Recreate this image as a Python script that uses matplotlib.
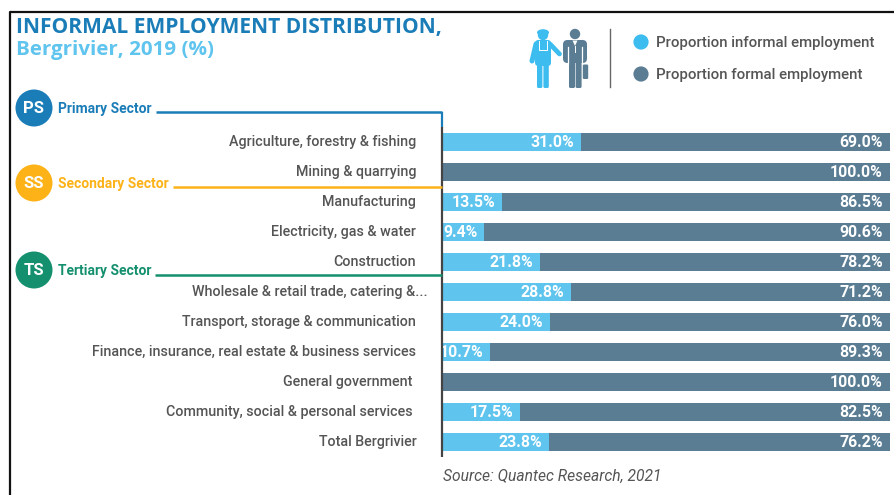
import matplotlib
matplotlib.use("Agg")
import matplotlib.pyplot as plt
from matplotlib.patches import Circle, Ellipse, FancyBboxPatch, Polygon
from matplotlib.transforms import ScaledTranslation

categories = [
    "Agriculture, forestry & fishing",
    "Mining & quarrying",
    "Manufacturing",
    "Electricity, gas & water",
    "Construction",
    "Wholesale & retail trade, catering &...",
    "Transport, storage & communication",
    "Finance, insurance, real estate & business services",
    "General government ",
    "Community, social & personal services ",
    "Total Bergrivier",
]
informal = [31.0, 0.0, 13.5, 9.4, 21.8, 28.8, 24.0, 10.7, 0.0, 17.5, 23.8]
formal = [69.0, 100.0, 86.5, 90.6, 78.2, 71.2, 76.0, 89.3, 100.0, 82.5, 76.2]
series_names = ["Proportion informal employment", "Proportion formal employment"]

W, H = 894, 495
SKY = "#5fc4ee"
SLATE = "#5b7d94"
ICON_SKY = "#3dbcef"
BLUE = "#1b7db8"
AMBER = "#fdb218"
GREEN = "#14906f"
GREY = "#555555"
FONT = "Roboto"

fig = plt.figure(figsize=(W / 100, H / 100), dpi=100, facecolor="white")

# Overlay in pixel units for the frame, headings, sector tags and icons
ov = fig.add_axes([0, 0, 1, 1], zorder=3)
ov.set_xlim(0, W)
ov.set_ylim(H, 0)
ov.axis("off")
ov.patch.set_alpha(0)

# Stacked bars
ax = fig.add_axes([442 / W, 1 - 457 / H, 448 / W, (457 - 127) / H], zorder=1)
y = list(range(len(categories)))
ax.barh(y, informal, height=0.62, color=SKY, linewidth=0)
ax.barh(y, formal, left=informal, height=0.62, color=SLATE, linewidth=0)
ax.set_xlim(0, 100)
ax.set_ylim(10.5, -0.5)
for side in ("top", "right", "bottom", "left"):
    ax.spines[side].set_visible(False)
ax.set_xticks([])
ax.set_yticks(y)
ax.set_yticklabels(categories, fontsize=10.25, color=GREY, family=FONT, fontweight="medium",
                   va="center")
ax.tick_params(axis="y", length=0, pad=18.5)
ax.patch.set_alpha(0)

# The truncated label runs closer to the bars than the others
wide_label = ax.get_yticklabels()[5]
wide_label.set_transform(wide_label.get_transform()
                         + ScaledTranslation(11 / 100, 0, fig.dpi_scale_trans))

for i, (a, b) in enumerate(zip(informal, formal)):
    if a > 0:
        ax.text(a - 1.5, i + 0.02, f"{a:.1f}%", ha="right", va="center", color="white",
                fontsize=11.4, family=FONT, fontweight="bold")
    ax.text(98.4, i + 0.02, f"{b:.1f}%", ha="right", va="center", color="white",
            fontsize=11.4, family=FONT, fontweight="bold")

# Outer frame and vertical baseline
ov.plot([9.5, 9.5, W], [H, 11.5, 11.5], color="#111111", lw=1.6, solid_capstyle="butt")
ov.plot([442, 442], [127, 457], color="#444444", lw=1.6, solid_capstyle="butt")

# Headings
ov.text(16, 28, "INFORMAL EMPLOYMENT DISTRIBUTION,", color=BLUE, fontsize=15.1,
        family="Open Sans", fontweight="bold", va="center", ha="left")
ov.text(16, 50.5, "Bergrivier, 2019 (%)", color=SKY, fontsize=14.75,
        family="Open Sans", fontweight="bold", va="center", ha="left")

# Sector tags with their leader lines
sectors = [
    ("PS", "Primary Sector", BLUE, 108, 112, 156),
    ("SS", "Secondary Sector", AMBER, 183, 187, 173),
    ("TS", "Tertiary Sector", GREEN, 270, 275, 155),
]
for tag, name, col, yc, yl, xl in sectors:
    ov.add_patch(Circle((34, yc), 18.5, color=col, lw=0))
    ov.text(34, yc + 0.5, tag, color="white", fontsize=12, family=FONT,
            fontweight="bold", ha="center", va="center")
    ov.text(57.5, yc + 1, name, color=col, fontsize=10, family=FONT,
            fontweight="bold", ha="left", va="center")
    ov.plot([xl, 442], [yl, yl], color=col, lw=1.8, solid_capstyle="butt")
ov.plot([442, 442], [112, 127], color=BLUE, lw=1.6, solid_capstyle="butt")


def rounded(x0, y0, w, h, r, col):
    ov.add_patch(FancyBboxPatch((x0, y0), w, h, boxstyle=f"round,pad=0,rounding_size={r}",
                                color=col, lw=0))


# Worker in overalls with a raised arm
rounded(535, 40, 16, 26, 3.5, ICON_SKY)
rounded(537, 60, 5.4, 28, 1.5, ICON_SKY)
rounded(543.4, 60, 5.4, 28, 1.5, ICON_SKY)
ov.add_patch(Circle((543, 35), 5.2, color=ICON_SKY, lw=0))
ov.add_patch(Ellipse((543, 32.5), 12, 6.5, color=ICON_SKY, lw=0))
ov.plot([536, 532], [44, 61], color=ICON_SKY, lw=3.6, solid_capstyle="round")
ov.plot([550, 559.5], [44, 54], color=ICON_SKY, lw=3.4, solid_capstyle="round")
ov.plot([539, 539, 547, 547], [41, 50, 50, 41], color="white", lw=0.7)

# Office worker with briefcase
rounded(563, 40, 24, 23, 4.5, SLATE)
rounded(569, 55, 6, 33, 1.5, SLATE)
rounded(575.6, 55, 6, 33, 1.5, SLATE)
ov.add_patch(Circle((575, 34), 5.2, color=SLATE, lw=0))
ov.plot([567.8, 567.8], [47, 63.5], color="white", lw=0.9)
ov.plot([582.2, 582.2], [47, 63.5], color="white", lw=0.9)
rounded(582.8, 64.5, 5.4, 14.5, 1.2, SLATE)
ov.add_patch(Polygon([[572.5, 40.5], [577.5, 40.5], [575, 46]], color="white", lw=0))
ov.plot([575, 575], [46, 52], color="white", lw=0.7)

ov.plot([610, 610], [29, 87], color="#666666", lw=1.0)

# Legend
for yc, col, label in zip((42, 74), (ICON_SKY, SLATE), series_names):
    ov.add_patch(Circle((641, yc), 7.6, color=col, lw=0))
    ov.text(656, yc + 0.8, label, color=GREY, fontsize=10.85, family=FONT,
            fontweight="medium", va="center", ha="left")

ov.text(443, 476.5, "Source: Quantec Research, 2021", color=GREY, fontsize=11.25,
        family=FONT, fontstyle="italic", va="center", ha="left")

fig.savefig("out.png", dpi=100)
